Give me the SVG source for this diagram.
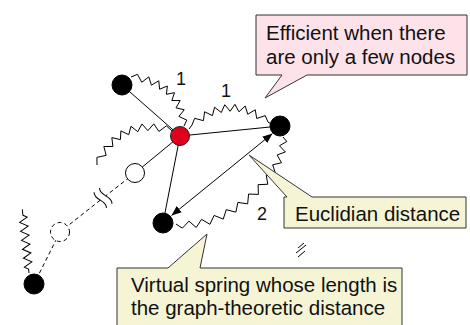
<svg xmlns="http://www.w3.org/2000/svg" width="470" height="325" viewBox="0 0 470 325">
  <style>
    .edge { stroke: #000; stroke-width: 1; fill: none; }
    .dash { stroke-dasharray: 4 3; }
    .spring { stroke: #000; stroke-width: 1; fill: none; stroke-linejoin: miter; }
    .node-black { fill: #000; stroke: #000; stroke-width: 1; }
    .node-red { fill: #e0001b; stroke: #222; stroke-width: 1; }
    .node-white { fill: #fff; stroke: #000; stroke-width: 1; }
    .label { font-family: "Liberation Sans", Arial, sans-serif; font-size: 18px; fill: #111; text-anchor: middle; }
    .note { font-family: "Liberation Sans", Arial, sans-serif; font-size: 20.5px; fill: #111; }
    .pink { fill: #fde2e9; stroke: #333; stroke-width: 1; }
    .yellow { fill: #f5f5d6; stroke: #333; stroke-width: 1; }
  </style>
  <defs>
    <marker id="arrow" viewBox="0 0 10 8" refX="10" refY="4" markerWidth="10" markerHeight="8" markerUnits="userSpaceOnUse" orient="auto-start-reverse">
      <path d="M0,0 L10,4 L0,8 z" fill="#000"/>
    </marker>
  </defs>

  <rect width="470" height="325" fill="#fff"/>

  <!-- connectors: edges, springs, distance arrow -->
  <g id="connectors">
    <line class="edge" x1="122" y1="85" x2="180" y2="136"/>
    <line class="edge" x1="180" y1="136" x2="280" y2="126"/>
    <line class="edge" x1="180" y1="136" x2="163" y2="223"/>
    <line class="edge" x1="180" y1="136" x2="135" y2="173"/>
    <line class="edge dash" x1="135" y1="173" x2="105.75" y2="195.84"/>
    <line class="edge dash" x1="100.25" y1="200.16" x2="60" y2="232"/>
    <line class="edge dash" x1="60" y1="232" x2="34" y2="284"/>
    <!-- break mark on the elided path -->
    <g transform="translate(103,198) rotate(141.8)">
      <path class="edge" d="M-3.5,-10 C-9,-4 2,4 -3.5,10"/>
      <path class="edge" d="M3.5,-10 C-2,-4 9,4 3.5,10"/>
    </g>
    <!-- Euclidean distance -->
    <line class="edge" x1="272.5" y1="133.5" x2="171.5" y2="215.5" marker-start="url(#arrow)" marker-end="url(#arrow)"/>

    <!-- springs -->
    <path class="spring" d="M131,77 L137.51,74.33 L141.77,82.27 L148.81,76.89 L151.42,85.2 L158.77,80.79 L159.61,89.23 L167.36,86.04 L166.37,94.32 L174.51,92.66 L171.82,100.52 L180.16,100.58 L175.99,107.86 L184.23,109.75 L178.91,116.45 L186.77,120.08 L184,126"/>
    <path class="spring" d="M189,129 L192,125 L194.63,118.34 L203.43,120.65 L204.55,111.78 L212.45,115.63 L214.59,107.23 L221.34,112.51 L224.75,104.72 L230.14,111.25 L234.97,104.32 L238.92,111.81 L245.17,106.02 L247.77,114.22 L255.26,109.8 L256.74,118.5 L265.23,115.61 L268,122 L271,124"/>
    <path class="spring" d="M172,131 L166.42,125.85 L158.9,131.47 L153.78,123.84 L147.85,130.63 L141.96,123.96 L137.81,131.7 L130.96,126.31 L128.7,134.69 L120.89,130.87 L120.42,139.59 L111.83,137.62 L112.91,146.48 L103.85,146.46 L106.15,155.4 L96.9,157.34 L97,165"/>
    <path class="spring" d="M283,137 L286.79,141.53 L279.47,145.73 L285.36,151.97 L277.13,154.97 L281.5,162.75 L272.63,164.8 L275.56,173.59 L266.22,174.82 L267.75,184.25 L258.1,184.67 L258.4,194.43 L248.57,194 L247.68,203.84 L237.87,202.45 L235.88,212.17 L226.28,209.7 L223.22,219.12 L214.08,215.45 L209.93,224.33 L201.55,219.35 L196.22,227.46 L188.94,221.14 L182.37,228.15 L176,224"/>
    <path class="spring" transform="translate(29,273) rotate(-96)" d="M0,0 L4,0 L6.25,-4 L10.75,4 L15.25,-4 L19.75,4 L24.25,-4 L28.75,4 L33.25,-4 L37.75,4 L42.25,-4 L46.75,4 L51.25,-4 L55.75,4 L58,0 L64,0"/>

    <!-- spring lengths -->
    <text class="label" x="181" y="85">1</text>
    <text class="label" x="226" y="97">1</text>
    <text class="label" x="262" y="220">2</text>

    <!-- small approximation mark -->
    <path class="edge" d="M298,248 L304,243 M296,253 L306,245 M298,257 L305,251"/>
  </g>

  <!-- nodes -->
  <g id="node-top-left"><circle class="node-black" cx="122" cy="85" r="10"/></g>
  <g id="node-center"><circle class="node-red" cx="180" cy="136" r="9.5"/></g>
  <g id="node-right"><circle class="node-black" cx="280" cy="126" r="10"/></g>
  <g id="node-bottom"><circle class="node-black" cx="163" cy="223" r="10"/></g>
  <g id="node-open"><circle class="node-white" cx="135" cy="173" r="9.5"/></g>
  <g id="node-elided"><circle class="node-white dash" cx="60" cy="232" r="9.5" stroke-dasharray="4 3"/></g>
  <g id="node-far"><circle class="node-black" cx="34" cy="284" r="10"/></g>

  <!-- callouts -->
  <g id="note-efficient">
    <path class="pink" d="M256,15 H467 V75 H307 L265,98 L282,75 H256 Z"/>
    <text class="note" x="266" y="40">Efficient when there</text>
    <text class="note" x="266" y="64">are only a few nodes</text>
  </g>
  <g id="note-euclid">
    <path class="yellow" d="M284,197 H287 L249,155 L312,197 H466 V228 H284 Z"/>
    <text class="note" x="295" y="221">Euclidian distance</text>
  </g>
  <g id="note-spring">
    <path class="yellow" d="M117,268 H168 L207,234 L200,268 H402 V330 H117 Z"/>
    <text class="note" x="131" y="292">Virtual spring whose length is</text>
    <text class="note" x="131" y="315">the graph-theoretic distance</text>
  </g>
</svg>
